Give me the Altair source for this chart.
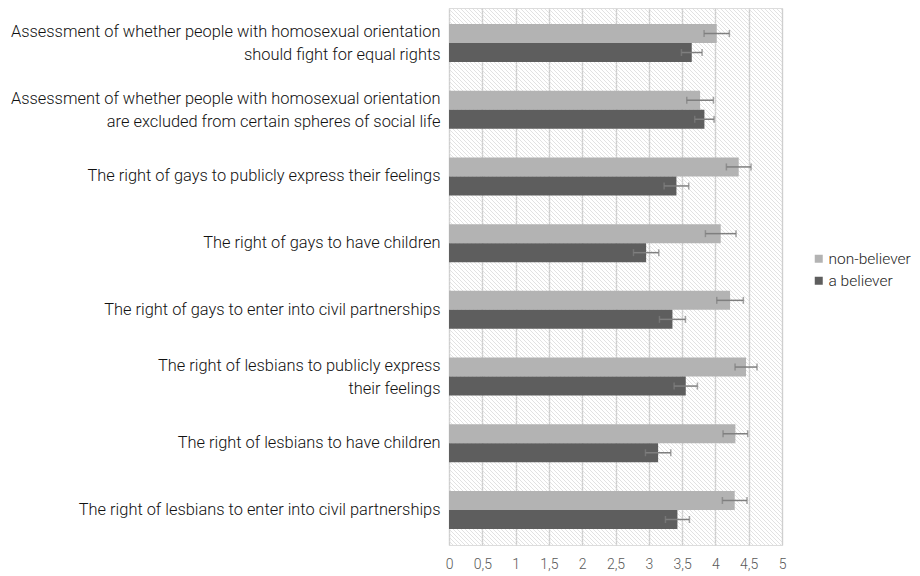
import altair as alt
import pandas as pd

categories = [
    "Assessment of whether people with homosexual orientation\nshould fight for equal rights",
    "Assessment of whether people with homosexual orientation\nare excluded from certain spheres of social life",
    "The right of gays to publicly express their feelings",
    "The right of gays to have children",
    "The right of gays to enter into civil partnerships",
    "The right of lesbians to publicly express\ntheir feelings",
    "The right of lesbians to have children",
    "The right of lesbians to enter into civil partnerships",
]
series = ["non-believer", "a believer"]
non_believer = [4.02, 3.77, 4.35, 4.08, 4.22, 4.46, 4.30, 4.29]
non_believer_err = [0.19, 0.20, 0.185, 0.23, 0.20, 0.165, 0.185, 0.185]
believer = [3.645, 3.835, 3.415, 2.96, 3.355, 3.555, 3.14, 3.43]
believer_err = [0.155, 0.145, 0.185, 0.19, 0.195, 0.175, 0.19, 0.18]
x_ticks = [0, 0.5, 1, 1.5, 2, 2.5, 3, 3.5, 4, 4.5, 5]

rows = []
for i, c in enumerate(categories):
    rows.append({"cat": c, "series": series[0], "v": non_believer[i], "e": non_believer_err[i]})
    rows.append({"cat": c, "series": series[1], "v": believer[i], "e": believer_err[i]})
df = pd.DataFrame(rows)
df["lo"] = df["v"] - df["e"]
df["hi"] = df["v"] + df["e"]

W, H = 333, 537
FONT = "Roboto, Lato, sans-serif"

# decorative hatched background
hatch = alt.Chart(alt.sequence(-H, W + 5, 4, as_="i")).transform_calculate(
    i2=f"datum.i + {H}", yt=f"{H}", yb="0"
).mark_rule(color="#dadada", strokeWidth=0.8, clip=True).encode(
    x=alt.X("i:Q", scale=alt.Scale(domain=[0, W], nice=False, zero=False), axis=None),
    x2="i2:Q",
    y=alt.Y("yt:Q", scale=alt.Scale(domain=[0, H], nice=False), axis=None),
    y2="yb:Q",
)

y_enc = alt.Y(
    "cat:N",
    sort=categories,
    scale=alt.Scale(paddingInner=0.43, paddingOuter=0.24),
    axis=alt.Axis(
        title=None,
        labelExpr="split(datum.label, '\\n')",
        labelFont=FONT,
        labelFontSize=16.4,
        labelFontWeight=300,
        labelColor="#111111",
        labelLineHeight=23,
        labelPadding=9,
        labelLimit=600,
        labelOffset={"condition": {"test": "indexof(datum.value, '\\n') >= 0", "value": -11}, "value": 0},
        ticks=False,
        domain=False,
    ),
)
yoff = alt.YOffset("series:N", sort=series, scale=alt.Scale(paddingInner=0, paddingOuter=0))
x_scale = alt.Scale(domain=[0, 5], nice=False)
x_axis = alt.Axis(
    title=None,
    values=x_ticks,
    labelExpr="replace(format(datum.value, ''), '.', ',')",
    labelFont=FONT,
    labelFontSize=14,
    labelFontWeight=300,
    labelColor="#595959",
    labelPadding=12,
    labelOverlap=False,
    labelFlush=False,
    ticks=False,
    domain=False,
    grid=True,
    gridColor="#cfcfcf",
    gridWidth=1.4,
)

base = alt.Chart(df)
bars = base.mark_bar().encode(
    x=alt.X("v:Q", scale=x_scale, axis=x_axis),
    y=y_enc,
    yOffset=yoff,
    color=alt.Color(
        "series:N",
        sort=series,
        scale=alt.Scale(domain=series, range=["#b3b3b3", "#5e5e5e"]),
        legend=alt.Legend(
            title=None,
            orient="none",
            legendX=362,
            legendY=243,
            symbolType="square",
            symbolSize=64,
            symbolStrokeWidth=0,
            labelFont=FONT,
            labelFontSize=15.5,
            labelFontWeight=300,
            labelColor="#262626",
            labelOffset=2,
            rowPadding=5,
        ),
    ),
)
err = base.mark_rule(color="#7f7f7f", strokeWidth=1.5).encode(
    x=alt.X("lo:Q", scale=x_scale, axis=x_axis), x2="hi:Q", y=y_enc, yOffset=yoff
)
cap_lo = base.mark_tick(color="#7f7f7f", thickness=1.5, size=7).encode(
    x=alt.X("lo:Q", scale=x_scale, axis=x_axis), y=y_enc, yOffset=yoff
)
cap_hi = base.mark_tick(color="#7f7f7f", thickness=1.5, size=7).encode(
    x=alt.X("hi:Q", scale=x_scale, axis=x_axis), y=y_enc, yOffset=yoff
)

main = alt.layer(bars, err, cap_lo, cap_hi)

chart = alt.layer(hatch, main).resolve_scale(x="independent", y="independent").properties(
    width=W,
    height=H,
    autosize=alt.AutoSizeParams(type="none"),
    padding={"left": 441, "top": 0, "right": 130, "bottom": 30},
).configure_view(stroke=None).configure(background="white")

chart.save("out.html", embed_options={"renderer": "svg", "actions": False})
